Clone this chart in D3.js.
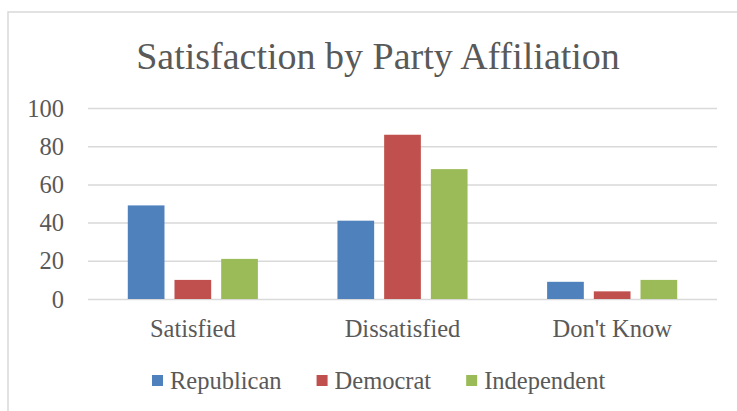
<!DOCTYPE html>
<html>
<head>
<meta charset="utf-8">
<script src="https://cdn.jsdelivr.net/npm/d3@7"></script>
<style>
  html, body { margin: 0; padding: 0; background: #fff; }
  svg { display: block; }
  text { font-family: "Liberation Serif", "Times New Roman", serif; fill: #595959; }
</style>
</head>
<body>
<svg id="chart" width="737" height="411"></svg>
<script>
const title = "Satisfaction by Party Affiliation";
const categories = ["Satisfied", "Dissatisfied", "Don't Know"];
const seriesNames = ["Republican", "Democrat", "Independent"];
const seriesColors = ["#4F81BD", "#C0504D", "#9BBB59"];
const republican = [49, 41, 9];
const democrat = [10, 86, 4];
const independent = [21, 68, 10];
const yTicks = [0, 20, 40, 60, 80, 100];

const seriesValues = [republican, democrat, independent];

const W = 737, H = 411;
const svg = d3.select("#chart");

// chart frame border
svg.append("rect")
  .attr("x", 8).attr("y", 12)
  .attr("width", W + 10).attr("height", H + 10)
  .attr("fill", "none")
  .attr("stroke", "#D9D9D9")
  .attr("stroke-width", 1.5);

// title
svg.append("text")
  .attr("x", 378).attr("y", 69)
  .attr("text-anchor", "middle")
  .style("font-size", "38px")
  .text(title);

const plot = { left: 88, right: 717, top: 108, bottom: 299 };

const x = d3.scaleBand().domain(categories).range([plot.left, plot.right]).paddingInner(0).paddingOuter(0);
const xs = d3.scaleBand().domain(seriesNames).range([0, x.bandwidth()]).paddingInner(0.214).paddingOuter(0.852);
const y = d3.scaleLinear().domain([0, 100]).range([plot.bottom, plot.top]);

// gridlines + y labels via axis
const yAxis = d3.axisLeft(y).tickValues(yTicks).tickSize(-(plot.right - plot.left)).tickPadding(24);
const gy = svg.append("g").attr("transform", `translate(${plot.left},0)`).call(yAxis);
gy.select(".domain").remove();
gy.selectAll(".tick line").attr("stroke", "#D9D9D9").attr("stroke-width", 1.5);
gy.selectAll(".tick text")
  .attr("fill", "#595959")
  .style("font-size", "24.5px")
  .style("font-family", "'Liberation Serif', serif")
  .attr("dy", "0.33em");

// bars
const data = [];
categories.forEach((c, i) => {
  seriesNames.forEach((s, j) => {
    data.push({ cat: c, series: s, value: seriesValues[j][i], color: seriesColors[j] });
  });
});

svg.append("g").selectAll("rect")
  .data(data)
  .join("rect")
  .attr("x", d => x(d.cat) + xs(d.series))
  .attr("y", d => y(d.value))
  .attr("width", xs.bandwidth())
  .attr("height", d => y(0) - y(d.value))
  .attr("fill", d => d.color);

// x axis labels
const xAxis = d3.axisBottom(x).tickSize(0).tickPadding(21);
const gx = svg.append("g").attr("transform", `translate(0,${plot.bottom})`).call(xAxis);
gx.select(".domain").remove();
gx.selectAll(".tick text")
  .attr("fill", "#595959")
  .style("font-size", "24.5px")
  .style("font-family", "'Liberation Serif', serif");

// legend
const legend = svg.append("g");
let lx = 152;
const ly = 389;
seriesNames.forEach((s, j) => {
  legend.append("rect")
    .attr("x", lx).attr("y", ly - 14)
    .attr("width", 11).attr("height", 11)
    .attr("fill", seriesColors[j]);
  const t = legend.append("text")
    .attr("x", lx + 18).attr("y", ly)
    .style("font-size", "24.5px")
    .text(s);
  const w = t.node().getComputedTextLength();
  lx = lx + 18 + w + 35;
});
</script>
</body>
</html>
